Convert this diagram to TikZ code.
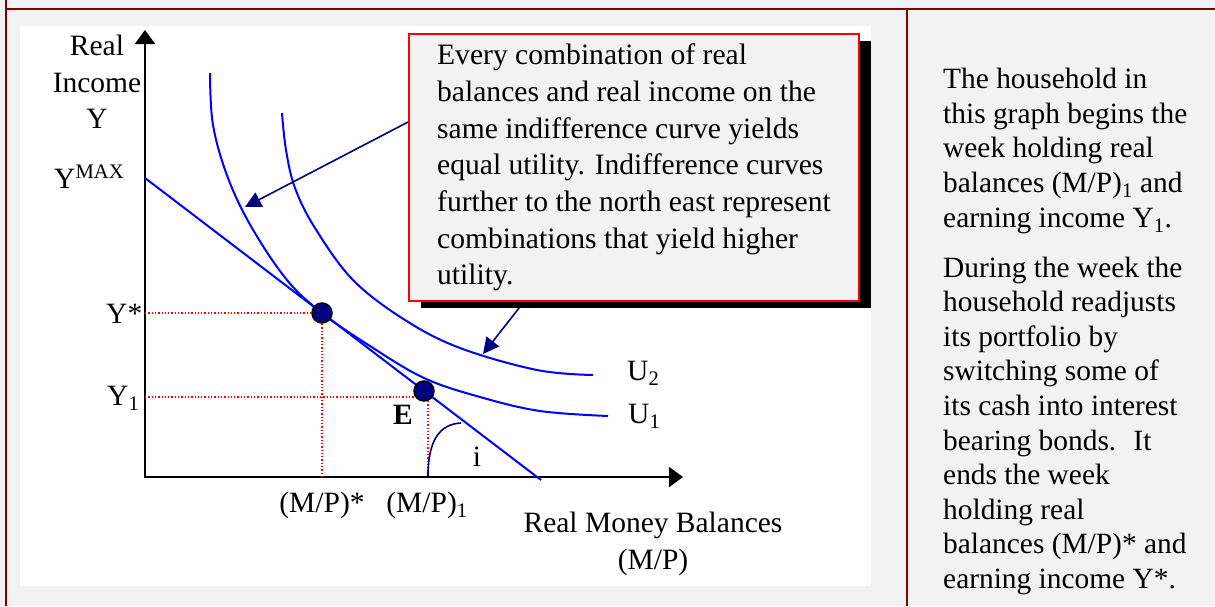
\documentclass[tikz,border=0pt]{standalone}
\usepackage{fontspec}
\setmainfont{Liberation Serif}
\usepackage{xcolor}
\definecolor{tblmaroon}{RGB}{128,0,0}
\definecolor{cellgray}{RGB}{242,242,242}
\definecolor{icblue}{RGB}{0,0,255}
\definecolor{ptnavy}{RGB}{0,0,128}
\usetikzlibrary{arrows.meta,shadows}

\begin{document}
\begin{tikzpicture}[x=1pt, y=-1pt,
  lbl/.style={font=\fontsize{29.5}{36.5}\selectfont, inner sep=0pt},
  axisline/.style={line width=2pt, -{Triangle[length=14pt,width=20pt]}},
  icurve/.style={draw=icblue, line width=2pt},
  guide/.style={draw=red, line width=1.3pt, dash pattern=on 1.3pt off 2pt},
  tangpt/.style={circle, fill=ptnavy, draw=black, line width=1.5pt,
    minimum size=20pt, inner sep=0pt},
  pointer/.style={draw=ptnavy, line width=1.6pt, -{Triangle[length=16pt,width=16pt]}},
  rule/.style={draw=tblmaroon, line width=2pt}
]
\useasboundingbox[fill=cellgray] (0,0) rectangle (1215,606);
\fill[white] (20,26) rectangle (871,586);

% table rules
\draw[rule] (5,9) -- (1215,9);
\draw[rule] (6,0) -- (6,606);
\draw[rule] (907,9) -- (907,606);

% axes
\coordinate (origin) at (145,477);
\coordinate (ytop) at (145,30);
\coordinate (xend) at (683,477);
\draw[axisline] (145,478) -- (ytop);
\draw[axisline] (origin) -- (xend);

% guide lines
\coordinate (ystarpt) at (322,313);
\coordinate (ystarax) at (145,313);
\coordinate (mpstarax) at (322,477);
\coordinate (ecorner) at (428,397);
\coordinate (yoneax) at (145,397);
\coordinate (mponeax) at (428,477);
\draw[guide] (ystarax) -- (ystarpt) -- (mpstarax);
\draw[guide] (yoneax) -- (ecorner) -- (mponeax);

% budget line and indifference curves
\coordinate (ymax) at (145,178);
\coordinate (bend) at (541,480);
\draw[icurve] (ymax) -- (bend);
\draw[icurve] plot[smooth, tension=0.6] coordinates {(210,73) (213,125) (228,178)
  (252,228) (287,280) (322,313) (370,346) (424,378) (480,397) (540,411) (608,416)};
\draw[icurve] plot[smooth, tension=0.6] coordinates {(282,113) (286,150) (295,188)
  (315,228) (353,280) (405,320) (460,348) (537,370) (593,375)};

% points
\node[tangpt] (ystar) at (ystarpt) {};
\node[tangpt] (e) at (424,391) {};

% angle i
\coordinate (arcfoot) at (428,476);
\coordinate (arctip) at (461,423);
\draw[draw=ptnavy, line width=1.6pt] (arcfoot) .. controls (428,440) and (440,424) .. (arctip);

% labels
\node[lbl, anchor=north, align=center] (ylabel) at (97,35) {Real\\Income\\Y};
\node[lbl, anchor=base west] (ymaxlbl) at (54,188) {Y\textsuperscript{MAX}};
\node[lbl, anchor=base west] (ystarlbl) at (106,323) {Y*};
\node[lbl, anchor=base west] (yonelbl) at (107,405) {Y\textsubscript{1}};
\node[lbl, anchor=base] (mpstarlbl) at (322,512) {(M/P)*};
\node[lbl, anchor=base] (mponelbl) at (427,512) {(M/P)\textsubscript{1}};
\node[lbl, anchor=north, align=center] (xlabel) at (653,512) {Real Money Balances\\(M/P)};
\node[lbl, anchor=base west] (utwolbl) at (627,380) {U\textsubscript{2}};
\node[lbl, anchor=base west] (uonelbl) at (628,423) {U\textsubscript{1}};
\node[lbl, anchor=base] (elbl) at (403,424) {\textbf{E}};
\node[lbl, anchor=base] (ilbl) at (477,466) {i};

% callout
\coordinate (ptrAstart) at (410,121);
\coordinate (ptrAtip) at (245,207);
\coordinate (ptrBstart) at (530,294);
\coordinate (ptrBtip) at (483,354);
\draw[pointer] (ptrAstart) -- (ptrAtip);
\draw[pointer] (ptrBstart) -- (ptrBtip);
\node[draw=red, line width=1.5pt, fill=cellgray, minimum width=450pt,
  minimum height=267pt, inner sep=0pt, align=left,
  drop shadow={shadow xshift=11.5pt, shadow yshift=-7pt, fill=black, opacity=1},
  font=\fontsize{29.6}{36.7}\selectfont] (note) at (634,167.5)
  {Every combination of real\\balances and real income on the\\same indifference curve yields\\equal utility. Indifference curves\\further to the north east represent\\combinations that yield higher\\utility.};

% side text
\node[lbl, anchor=north west, align=left, font=\fontsize{29.4}{34.6}\selectfont]
  (story) at (943,68)
  {The household in\\this graph begins the\\week holding real\\balances (M/P)\textsubscript{1} and\\earning income Y\textsubscript{1}.\\[15.4pt]During the week the\\household readjusts\\its portfolio by\\switching some of\\its cash into interest\\bearing bonds.~ It\\ends the week\\holding real\\balances (M/P)* and\\earning income Y*.};
\end{tikzpicture}
\end{document}
